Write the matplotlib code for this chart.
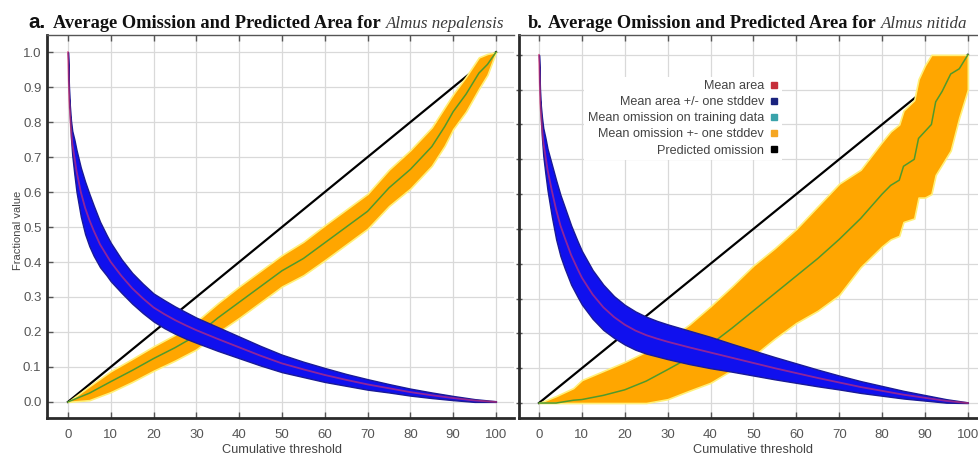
import numpy as np
import matplotlib
matplotlib.use("Agg")
import matplotlib.pyplot as plt
from matplotlib.lines import Line2D

# ---------------- data ----------------
thresholds = [0, 10, 20, 30, 40, 50, 60, 70, 80, 90, 100]
fractions = [0.0, 0.1, 0.2, 0.3, 0.4, 0.5, 0.6, 0.7, 0.8, 0.9, 1.0]

pred_x = [0, 100]
pred_y = [0.0, 1.0]

area_x = [0, 0.3, 0.7, 1, 1.5, 2, 3, 4, 5, 6, 7.5, 9, 10, 12.5, 15, 17.5, 20, 22.5, 25, 27.5,
          30, 35, 40, 45, 50, 55, 60, 65, 70, 75, 80, 85, 90, 95, 100]

# Alnus nepalensis: mean fractional predicted area and its stddev
area_mean_a = [1.0, 0.86, 0.78, 0.74, 0.70, 0.66, 0.60, 0.555, 0.52, 0.49, 0.45, 0.42, 0.40,
               0.36, 0.325, 0.296, 0.27, 0.251, 0.234, 0.219, 0.205, 0.18, 0.156, 0.132, 0.11,
               0.093, 0.077, 0.063, 0.05, 0.039, 0.028, 0.019, 0.011, 0.004, 0.0]
area_sd_a = [0.0, 0.01, 0.025, 0.035, 0.05, 0.06, 0.07, 0.075, 0.075, 0.072, 0.065, 0.058,
             0.055, 0.048, 0.044, 0.042, 0.04, 0.04, 0.039, 0.038, 0.036, 0.034, 0.031, 0.028,
             0.025, 0.022, 0.02, 0.017, 0.015, 0.012, 0.01, 0.008, 0.006, 0.004, 0.002]

# Alnus nepalensis: mean omission on training data and its stddev
om_x_a = [0, 5, 10, 15, 20, 25, 30, 35, 40, 45, 50, 55, 60, 65, 70, 75, 80, 85, 88, 90, 93,
          96, 98, 100]
om_mean_a = [0.0, 0.025, 0.058, 0.09, 0.124, 0.155, 0.19, 0.24, 0.285, 0.33, 0.375, 0.41,
             0.455, 0.50, 0.545, 0.612, 0.665, 0.73, 0.787, 0.83, 0.88, 0.94, 0.965, 1.0]
om_sd_a = [0.0, 0.02, 0.03, 0.033, 0.035, 0.037, 0.04, 0.042, 0.045, 0.045, 0.045, 0.048,
           0.05, 0.05, 0.05, 0.052, 0.055, 0.055, 0.055, 0.05, 0.05, 0.045, 0.03, 0.0]

# Alnus nitida: mean fractional predicted area and its stddev
area_mean_b = [1.0, 0.86, 0.79, 0.75, 0.71, 0.67, 0.61, 0.555, 0.51, 0.475, 0.425, 0.385,
               0.36, 0.312, 0.275, 0.247, 0.225, 0.208, 0.195, 0.185, 0.176, 0.16, 0.145,
               0.13, 0.115, 0.1, 0.086, 0.072, 0.059, 0.046, 0.035, 0.024, 0.015, 0.006, 0.0]
area_sd_b = [0.0, 0.012, 0.03, 0.04, 0.052, 0.06, 0.075, 0.085, 0.088, 0.088, 0.085, 0.08,
             0.077, 0.07, 0.065, 0.06, 0.057, 0.055, 0.053, 0.051, 0.05, 0.048, 0.045, 0.04,
             0.036, 0.032, 0.028, 0.024, 0.02, 0.017, 0.014, 0.011, 0.008, 0.005, 0.002]

# Alnus nitida: mean omission on training data and its stddev
om_x_b = [0, 4, 8, 10, 15, 20, 25, 30, 35, 40, 45, 50, 55, 60, 65, 70, 75, 80, 82, 84, 85,
          87.5, 88.5, 90, 91.5, 92.5, 94, 96, 98, 100]
om_mean_b = [0.0, 0.0, 0.008, 0.01, 0.022, 0.038, 0.063, 0.096, 0.13, 0.168, 0.215, 0.265,
             0.315, 0.365, 0.415, 0.47, 0.53, 0.60, 0.625, 0.64, 0.68, 0.70, 0.76, 0.78, 0.80,
             0.865, 0.895, 0.945, 0.96, 1.0]
om_sd_b = [0.0, 0.02, 0.035, 0.056, 0.07, 0.08, 0.085, 0.085, 0.095, 0.11, 0.12, 0.13, 0.13,
           0.135, 0.15, 0.16, 0.14, 0.15, 0.155, 0.16, 0.16, 0.17, 0.17, 0.19, 0.2, 0.21, 0.21,
           0.22, 0.14, 0.10]

legend_labels = ["Mean area", "Mean area +/- one stddev", "Mean omission on training data",
                 "Mean omission +- one stddev", "Predicted omission"]

# ---------------- styling ----------------
SANS = ["Liberation Sans", "DejaVu Sans"]
SERIF = ["Liberation Serif", "DejaVu Serif"]
C_AREA = "#d4306e"
C_AREA_BAND = "#1010ee"
C_AREA_EDGE = "#1a1a96"
C_OM = "#4f9a2c"
C_OM_BAND = "#ffa600"
C_OM_EDGE = "#fff07a"
C_GRID = "#d9d9d9"

W, H = 979, 458
fig = plt.figure(figsize=(W / 100, H / 100), dpi=100)
fig.patch.set_facecolor("white")


def box(left, top, right, bottom):
    return [left / W, 1 - bottom / H, (right - left) / W, (bottom - top) / H]


ax_a = fig.add_axes(box(47, 35, 514, 418))
ax_b = fig.add_axes(box(519, 35, 979, 418))


def draw_panel(ax, xlim, ylim, am, asd, ox, om, osd, show_ylabels):
    ax.set_xlim(*xlim)
    ax.set_ylim(*ylim)
    ax.set_xticks(thresholds)
    ax.set_yticks(fractions)
    ax.set_yticklabels([f"{v:.1f}" for v in fractions])
    ax.grid(True, color=C_GRID, lw=0.9)
    ax.set_axisbelow(True)

    # predicted omission
    ax.plot(pred_x, pred_y, color="black", lw=1.6, zorder=2)

    # omission band and mean
    om = np.array(om)
    osd = np.array(osd)
    ax.fill_between(ox, np.clip(om - osd, 0, 1), np.clip(om + osd, 0, 1),
                    facecolor=C_OM_BAND, edgecolor=C_OM_EDGE, lw=1.2, zorder=3)
    ax.plot(ox, om, color=C_OM, lw=1.1, zorder=4)

    # area band and mean
    am = np.array(am)
    asd = np.array(asd)
    ax.fill_between(area_x, np.clip(am - asd, 0, 1), np.clip(am + asd, 0, 1),
                    facecolor=C_AREA_BAND, edgecolor=C_AREA_EDGE, lw=1.0, zorder=5)
    ax.plot(area_x, am, color=C_AREA, lw=1.3, alpha=0.65, zorder=6)

    ax.spines["right"].set_visible(False)
    ax.spines["top"].set_color("#555555")
    ax.spines["top"].set_linewidth(1.0)
    for s in ("left", "bottom"):
        ax.spines[s].set_color("#2a2a2a")
        ax.spines[s].set_linewidth(2.0)

    ax.tick_params(axis="x", direction="in", length=4, width=1, color="#555555",
                   top=True, labelsize=9.5, labelcolor="#555555", pad=8)
    ax.tick_params(axis="y", direction="in" if show_ylabels else "inout", length=4, width=1,
                   color="#555555", labelsize=9.5, labelcolor="#555555", pad=4,
                   labelleft=show_ylabels)
    for lab in ax.get_xticklabels() + ax.get_yticklabels():
        lab.set_family(SANS)


draw_panel(ax_a, (-4.9, 104.2), (-0.046, 1.049), area_mean_a, area_sd_a,
           om_x_a, om_mean_a, om_sd_a, True)
draw_panel(ax_b, (-4.66, 102.6), (-0.043, 1.057), area_mean_b, area_sd_b,
           om_x_b, om_mean_b, om_sd_b, False)

# legend on the right panel
handles = [Line2D([], [], ls="none", marker="s", ms=4, mfc=c, mec=c)
           for c in ("#c62f3b", "#1a237e", "#3aa3aa", "#f5a623", "black")]
leg = ax_b.legend(handles, legend_labels, loc="upper right", bbox_to_anchor=(0.585, 0.908),
                  markerfirst=False, frameon=True, fancybox=False, framealpha=1,
                  facecolor="white", edgecolor="none", handlelength=0.6, handletextpad=0.5,
                  labelspacing=0.32, borderpad=0.3, prop={"family": SANS, "size": 9.1})
for t in leg.get_texts():
    t.set_color("#444444")
leg.set_zorder(8)

# axis labels
for cx in (282, 753):
    fig.text(cx / W, 1 - 450 / H, "Cumulative threshold", ha="center", va="center",
             family=SANS, size=9.2, color="#444444")
fig.text(18 / W, 1 - 230 / H, "Fractional value", ha="center", va="center", rotation=90,
         family=SANS, size=8, color="#444444")

# panel titles
fig.canvas.draw()
renderer = fig.canvas.get_renderer()


def width_px(text, **kw):
    t = fig.text(0, 0, text, **kw)
    w = t.get_window_extent(renderer=renderer).width
    t.remove()
    return w


head = "Average Omission and Predicted Area for"
base = 12.0
fs = base * 325 / width_px(head, family=SERIF, weight="bold", size=base)
baseline = 1 - 28 / H


def title(x_prefix, prefix, prefix_kw, x_head, species):
    fig.text(x_prefix / W, baseline, prefix, ha="left", va="baseline", color="#111111",
             **prefix_kw)
    t = fig.text(x_head / W, baseline, head, ha="left", va="baseline", family=SERIF,
                 weight="bold", size=fs, color="#111111")
    x_end = t.get_window_extent(renderer=renderer).x1
    fig.text((x_end + 5) / W, baseline, species, ha="left", va="baseline", family=SERIF,
             style="italic", size=fs * 0.92, color="#3a3a3a")


title(28, "a.", dict(family=SANS, weight="bold", size=fs + 1.5), 53, "Almus nepalensis")
title(528, "b.", dict(family=SERIF, weight="bold", size=fs), 548, "Almus nitida")

fig.savefig("out.png", dpi=100, facecolor="white")
